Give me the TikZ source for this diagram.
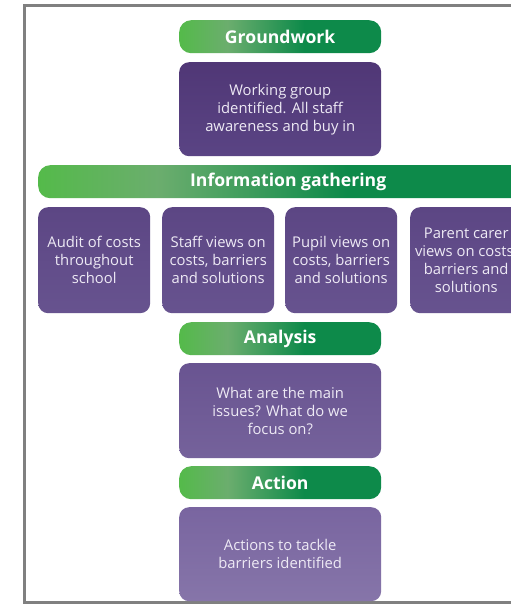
\documentclass[tikz,border=0pt]{standalone}
\usepackage{fontspec}
\setmainfont{Open Sans}
\definecolor{framegray}{HTML}{808080}
\definecolor{boxtext}{HTML}{EEEAF5}
\definecolor{pA1}{HTML}{503776}
\definecolor{pA2}{HTML}{5A4484}
\definecolor{pB1}{HTML}{5C4684}
\definecolor{pB2}{HTML}{67538F}
\definecolor{pC1}{HTML}{695491}
\definecolor{pC2}{HTML}{75629B}
\definecolor{pD1}{HTML}{7965A0}
\definecolor{pD2}{HTML}{8675A9}
\pgfdeclarehorizontalshading{greenbar}{100bp}{rgb(0bp)=(0.33,0.73,0.29); rgb(25bp)=(0.33,0.73,0.29); rgb(37bp)=(0.42,0.68,0.43); rgb(56bp)=(0.05,0.54,0.29); rgb(100bp)=(0.05,0.54,0.29)}
\tikzset{
  hdr/.style={anchor=north west, rounded corners=12pt, shading=greenbar,
    minimum height=33pt, inner sep=0pt, text=white,
    font=\fontsize{17.6}{20}\selectfont\bfseries},
  pbox/.style={anchor=north west, rounded corners=10pt, inner sep=0pt,
    align=center, text=boxtext, font=\fontsize{14.8}{18}\selectfont},
}
\begin{document}
\begin{tikzpicture}[x=1pt,y=-1pt]
\clip (0,0) rectangle (511,605);
\fill[white] (0,0) rectangle (511,605);
% frame
\draw[framegray, line width=3pt] (540,5.5) -- (24.5,5.5) -- (24.5,602.5) -- (540,602.5);
% groundwork
\node[hdr, minimum width=202pt] (ground) at (179,20) {Groundwork};
\node[pbox, minimum width=202pt, minimum height=94pt, top color=pA1, bottom color=pA2] (work) at (179,62)
  {Working group\\identified. All staff\\awareness and buy in};
% information gathering
\node[hdr, minimum width=500pt] (info) at (38,165) {Information gathering};
\node[pbox, minimum width=112pt, minimum height=106pt, top color=pB1, bottom color=pB2] (audit) at (38,207)
  {Audit of costs\\throughout\\school};
\node[pbox, minimum width=112pt, minimum height=106pt, top color=pB1, bottom color=pB2] (staff) at (162,207)
  {Staff views on\\costs, barriers\\and solutions};
\node[pbox, minimum width=112pt, minimum height=106pt, top color=pB1, bottom color=pB2] (pupil) at (285,207)
  {Pupil views on\\costs, barriers\\and solutions};
\node[pbox, minimum width=112pt, minimum height=106pt, top color=pB1, bottom color=pB2] (parent) at (410,207)
  {Parent carer\\views on costs,\\barriers and\\solutions};
% analysis
\node[hdr, minimum width=202pt] (analysis) at (179,322) {Analysis};
\node[pbox, minimum width=202pt, minimum height=95pt, top color=pC1, bottom color=pC2] (issues) at (179,363)
  {What are the main\\issues? What do we\\focus on?};
% action
\node[hdr, minimum width=202pt] (action) at (179,466) {Action};
\node[pbox, minimum width=202pt, minimum height=94pt, top color=pD1, bottom color=pD2] (tackle) at (179,507)
  {Actions to tackle\\barriers identified};
\end{tikzpicture}
\end{document}
